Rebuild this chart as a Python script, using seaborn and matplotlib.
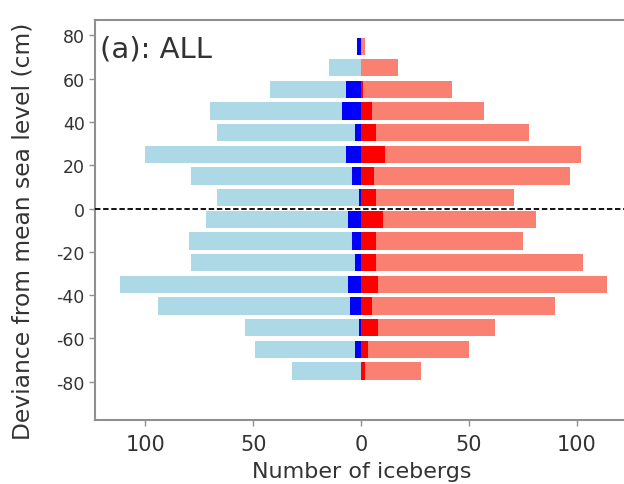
import numpy as np
import pandas as pd
import matplotlib
matplotlib.use("Agg")
import matplotlib.pyplot as plt
import seaborn as sns

# Bin centres (cm) and counts
centers = [75, 65, 55, 45, 35, 25, 15, 5, -5, -15, -25, -35, -45, -55, -65, -75]
neg_total = [2, 15, 42, 70, 67, 100, 79, 67, 72, 80, 79, 112, 94, 54, 49, 32]
neg_sub = [2, 0, 7, 9, 3, 7, 4, 1, 6, 4, 3, 6, 5, 1, 3, 0]
pos_total = [2, 17, 42, 57, 78, 102, 97, 71, 81, 75, 103, 114, 90, 62, 50, 28]
pos_sub = [0, 0, 1, 5, 7, 11, 6, 7, 10, 7, 7, 8, 5, 8, 3, 2]
xtick_vals = [-100, -50, 0, 50, 100]
xtick_labels = ["100", "50", "0", "50", "100"]
ytick_vals = [-80, -60, -40, -20, 0, 20, 40, 60, 80]

sns.set_style("white")
plt.rcParams["font.family"] = ["DejaVu Sans"]

df = pd.DataFrame({
    "center": centers,
    "neg_total": -np.array(neg_total),
    "neg_sub": -np.array(neg_sub),
    "pos_total": pos_total,
    "pos_sub": pos_sub,
})

fig = plt.figure(figsize=(6.24, 4.85), dpi=100)
ax = fig.add_axes([94.5 / 624, 1 - 421 / 485, (628 - 94.5) / 624, (421 - 21) / 485])

common = dict(y="center", data=df, orient="h", native_scale=True, width=0.8,
              errorbar=None, saturation=1, linewidth=0, ax=ax)
sns.barplot(x="neg_total", color="#ADD8E6", **common)
sns.barplot(x="pos_total", color="#FA8072", **common)
sns.barplot(x="neg_sub", color="#0000FF", **common)
sns.barplot(x="pos_sub", color="#FF0000", **common)

ax.axhline(0, color="black", linestyle="--", linewidth=1.3, dashes=(3, 1.5), zorder=5)

ax.set_xlim(-123.6, 123.8)
ax.set_ylim(-97.7, 87.1)
ax.set_xticks(xtick_vals)
ax.set_xticklabels(xtick_labels)
ax.set_yticks(ytick_vals)
ax.set_yticklabels([str(v) for v in ytick_vals])

for s in ax.spines.values():
    s.set_color("#8f8f8f")
    s.set_linewidth(1.5)
ax.tick_params(axis="both", which="both", direction="out", length=4, width=1,
               color="#8f8f8f", labelcolor="#333333", bottom=True, left=True)
ax.tick_params(axis="x", labelsize=15, pad=6)
ax.tick_params(axis="y", labelsize=12.5, pad=3)

ax.set_xlabel("Number of icebergs", fontsize=16, color="#333333", labelpad=5)
ax.set_ylabel("Deviance from mean sea level (cm)", fontsize=16.8, color="#333333")
ax.yaxis.set_label_coords(-0.112, 0.475)

ax.text(0.01, 0.965, "(a): ALL", transform=ax.transAxes, fontsize=21,
        color="#333333", ha="left", va="top")

fig.savefig("out.png", dpi=100)
